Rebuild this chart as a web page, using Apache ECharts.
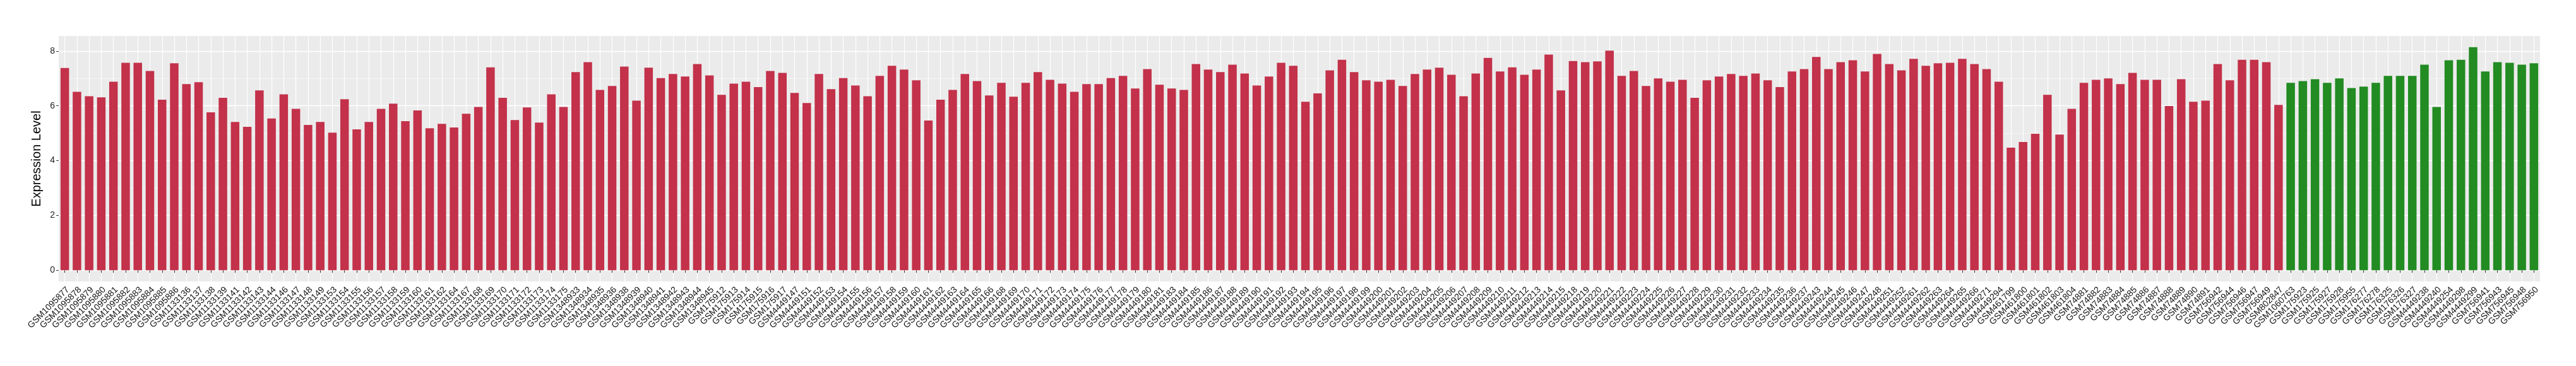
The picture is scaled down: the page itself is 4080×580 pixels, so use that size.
<!DOCTYPE html>
<html>
<head>
<meta charset="utf-8">
<script src="https://cdn.jsdelivr.net/npm/echarts@6/dist/echarts.min.js"></script>
<style>
  html, body { margin: 0; padding: 0; background: #fff; }
  #chart { width: 4080px; height: 580px; }
</style>
</head>
<body>
<div id="chart"></div>
<script>
// red group samples (sorted as in the plot)
const redSamples = [
  'GSM1095877', 'GSM1095878', 'GSM1095879', 'GSM1095880', 'GSM1095881', 'GSM1095882', 'GSM1095883', 'GSM1095884', 'GSM1095885', 'GSM1095886',
  'GSM1133136', 'GSM1133137', 'GSM1133138', 'GSM1133139', 'GSM1133141', 'GSM1133142', 'GSM1133143', 'GSM1133144', 'GSM1133146', 'GSM1133147',
  'GSM1133148', 'GSM1133149', 'GSM1133153', 'GSM1133154', 'GSM1133155', 'GSM1133156', 'GSM1133157', 'GSM1133158', 'GSM1133159', 'GSM1133160',
  'GSM1133161', 'GSM1133162', 'GSM1133164', 'GSM1133167', 'GSM1133168', 'GSM1133169', 'GSM1133170', 'GSM1133171', 'GSM1133172', 'GSM1133173',
  'GSM1133174', 'GSM1133175',
  'GSM1348933', 'GSM1348934', 'GSM1348935', 'GSM1348936', 'GSM1348938', 'GSM1348939', 'GSM1348940', 'GSM1348941', 'GSM1348942', 'GSM1348943',
  'GSM1348944', 'GSM1348945',
  'GSM175912', 'GSM175913', 'GSM175914', 'GSM175915', 'GSM175916', 'GSM175917',
  'GSM4449147', 'GSM4449151', 'GSM4449152', 'GSM4449153', 'GSM4449154', 'GSM4449155', 'GSM4449156', 'GSM4449157', 'GSM4449158', 'GSM4449159',
  'GSM4449160', 'GSM4449161', 'GSM4449162', 'GSM4449163', 'GSM4449164', 'GSM4449165', 'GSM4449166', 'GSM4449168', 'GSM4449169', 'GSM4449170',
  'GSM4449171', 'GSM4449172', 'GSM4449173', 'GSM4449174', 'GSM4449175', 'GSM4449176', 'GSM4449177', 'GSM4449178', 'GSM4449179', 'GSM4449180',
  'GSM4449181', 'GSM4449183', 'GSM4449184', 'GSM4449185', 'GSM4449186', 'GSM4449187', 'GSM4449188', 'GSM4449189', 'GSM4449190', 'GSM4449191',
  'GSM4449192', 'GSM4449193', 'GSM4449194', 'GSM4449195', 'GSM4449196', 'GSM4449197', 'GSM4449198', 'GSM4449199', 'GSM4449200', 'GSM4449201',
  'GSM4449202', 'GSM4449203', 'GSM4449204', 'GSM4449205', 'GSM4449206', 'GSM4449207', 'GSM4449208', 'GSM4449209', 'GSM4449210', 'GSM4449211',
  'GSM4449212', 'GSM4449213', 'GSM4449214', 'GSM4449215', 'GSM4449218', 'GSM4449219', 'GSM4449220', 'GSM4449221', 'GSM4449222', 'GSM4449223',
  'GSM4449224', 'GSM4449225', 'GSM4449226', 'GSM4449227', 'GSM4449228', 'GSM4449229', 'GSM4449230', 'GSM4449231', 'GSM4449232', 'GSM4449233',
  'GSM4449234', 'GSM4449235', 'GSM4449236', 'GSM4449237', 'GSM4449243', 'GSM4449244', 'GSM4449245', 'GSM4449246', 'GSM4449247', 'GSM4449248',
  'GSM4449251', 'GSM4449252', 'GSM4449261', 'GSM4449262', 'GSM4449263', 'GSM4449264', 'GSM4449265', 'GSM4449266', 'GSM4449271', 'GSM4449294',
  'GSM461799', 'GSM461800', 'GSM461801', 'GSM461802', 'GSM461803', 'GSM461804',
  'GSM74881', 'GSM74882', 'GSM74883', 'GSM74884', 'GSM74885', 'GSM74886', 'GSM74887', 'GSM74888', 'GSM74889', 'GSM74890', 'GSM74891',
  'GSM756942', 'GSM756944', 'GSM756946', 'GSM756947', 'GSM756949',
  'GSM802847'
];
const redValues = [
  7.38, 6.51, 6.35, 6.31, 6.88, 7.57, 7.57, 7.27, 6.22, 7.55,
  6.79, 6.86, 5.76, 6.29, 5.41, 5.23, 6.56, 5.54, 6.42, 5.89,
  5.30, 5.41, 5.02, 6.24, 5.14, 5.41, 5.89, 6.08, 5.44, 5.83,
  5.18, 5.34, 5.21, 5.71, 5.96, 7.40, 6.29, 5.48, 5.94, 5.39,
  6.42, 5.96,
  7.23, 7.59, 6.58, 6.72, 7.43, 6.19, 7.39, 7.01, 7.16, 7.07,
  7.52, 7.11,
  6.40, 6.81, 6.88, 6.68, 7.27, 7.20,
  6.47, 6.10, 7.16, 6.61, 7.01, 6.74, 6.35, 7.09, 7.46, 7.32,
  6.93, 5.46, 6.22, 6.58, 7.16, 6.90, 6.38, 6.84, 6.33, 6.84,
  7.23, 6.95, 6.81, 6.51, 6.79, 6.79, 7.01, 7.09, 6.63, 7.34,
  6.77, 6.63, 6.58, 7.52, 7.32, 7.23, 7.50, 7.18, 6.74, 7.07,
  7.57, 7.46, 6.15, 6.45, 7.29, 7.68, 7.23, 6.93, 6.88, 6.95,
  6.72, 7.16, 7.32, 7.39, 7.13, 6.35, 7.18, 7.75, 7.25, 7.40,
  7.13, 7.32, 7.87, 6.56, 7.63, 7.59, 7.62, 8.01, 7.09, 7.27,
  6.72, 7.00, 6.88, 6.95, 6.29, 6.93, 7.07, 7.16, 7.09, 7.18,
  6.93, 6.68, 7.25, 7.34, 7.78, 7.34, 7.59, 7.66, 7.25, 7.89,
  7.52, 7.29, 7.71, 7.46, 7.55, 7.57, 7.71, 7.52, 7.34, 6.88,
  4.47, 4.68, 4.98, 6.40, 4.95, 5.89,
  6.84, 6.95, 7.00, 6.79, 7.20, 6.95, 6.95, 5.99, 6.97, 6.15, 6.19,
  7.52, 6.93, 7.68, 7.68, 7.59,
  6.03
];
// green group samples
const greenSamples = [
  'GSM1060763', 'GSM175923', 'GSM175925', 'GSM175927', 'GSM175928', 'GSM175955', 'GSM176277', 'GSM176278',
  'GSM176325', 'GSM176326', 'GSM176327', 'GSM4449238', 'GSM4449240', 'GSM4449254', 'GSM4449298', 'GSM4449299',
  'GSM756941', 'GSM756943', 'GSM756945', 'GSM756948', 'GSM756950'
];
const greenValues = [
  6.84, 6.90, 6.97, 6.84, 7.00, 6.65, 6.70, 6.84,
  7.09, 7.09, 7.09, 7.50, 5.96, 7.66, 7.68, 8.14,
  7.25, 7.59, 7.57, 7.50, 7.55
];
const yMajorTicks = [0, 2, 4, 6, 8];
const yMinorTicks = [1, 3, 5, 7];

const RED = '#C3314A';
const GREEN = '#228B22';
const FONT = 'Liberation Sans, Arial, sans-serif';

const samples = redSamples.concat(greenSamples);
const values = redValues.concat(greenValues);
// ggplot style 5% expansion around [0, max]
const yTop = Math.max(...values);
const yMin = -0.05 * yTop;
const yMax = yTop * 1.05;

const chart = echarts.init(document.getElementById('chart'), null, { renderer: 'canvas' });
chart.setOption({
  animation: false,
  backgroundColor: '#fff',
  grid: {
    left: 93, right: 57, top: 57, bottom: 134,
    show: true,
    backgroundColor: '#EBEBEB',
    borderWidth: 0
  },
  xAxis: {
    type: 'category',
    data: samples,
    axisLine: { show: false },
    axisTick: {
      show: true, alignWithLabel: true, length: 4,
      lineStyle: { color: '#333', width: 1 }
    },
    // white line through the middle of every bar, like ggplot's major grid
    splitLine: {
      show: true, alignWithLabel: true,
      lineStyle: { color: '#fff', width: 1.2 }
    },
    axisLabel: {
      interval: 0,
      rotate: 45,
      margin: 6,
      align: 'right',
      verticalAlign: 'top',
      color: '#111',
      fontSize: 14,
      fontFamily: FONT,
      hideOverlap: false
    }
  },
  yAxis: [
    {
      type: 'value',
      min: yMin,
      max: yMax,
      name: 'Expression Level',
      nameLocation: 'middle',
      nameGap: 17,
      nameTextStyle: { fontSize: 20, color: '#000', fontFamily: FONT },
      axisLine: { show: false },
      axisTick: {
        show: true, length: 4, customValues: yMajorTicks,
        lineStyle: { color: '#333', width: 1 }
      },
      axisLabel: {
        customValues: yMajorTicks,
        margin: 6,
        color: '#222',
        fontSize: 14,
        fontFamily: FONT
      },
      splitLine: { show: true, lineStyle: { color: '#fff', width: 1.3 } }
    },
    {
      // only used for the thin minor grid lines
      type: 'value',
      min: yMin,
      max: yMax,
      axisLine: { show: false },
      axisTick: { show: false, customValues: yMinorTicks },
      axisLabel: { show: false, customValues: yMinorTicks },
      splitLine: { show: true, lineStyle: { color: '#F6F6F6', width: 1 } }
    }
  ],
  series: [
    {
      type: 'bar',
      yAxisIndex: 0,
      barWidth: '70%',
      data: values,
      itemStyle: {
        color: (p) => (p.dataIndex < redSamples.length ? RED : GREEN)
      }
    }
  ]
});
</script>
</body>
</html>
